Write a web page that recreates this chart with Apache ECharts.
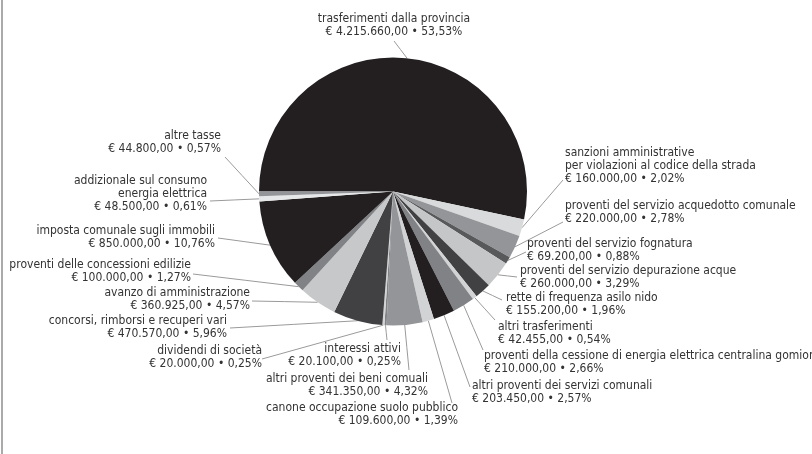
<!DOCTYPE html>
<html>
<head>
<meta charset="utf-8">
<script src="https://cdn.jsdelivr.net/npm/echarts@6/dist/echarts.min.js"></script>
<style>
  html, body { margin: 0; padding: 0; background: #fff; }
  #chart { width: 812px; height: 454px; }
</style>
</head>
<body>
<div id="chart"></div>
<script>
  // voci di entrata, in ordine orario a partire dalle ore 9
  var names = [
    'trasferimenti dalla provincia',
    'sanzioni amministrative\nper violazioni al codice della strada',
    'proventi del servizio acquedotto comunale',
    'proventi del servizio fognatura',
    'proventi del servizio depurazione acque',
    'rette di frequenza asilo nido',
    'altri trasferimenti',
    'proventi della cessione di energia elettrica centralina gomion',
    'altri proventi dei servizi comunali',
    'canone occupazione suolo pubblico',
    'altri proventi dei beni comuali',
    'interessi attivi',
    'dividendi di società',
    'concorsi, rimborsi e recuperi vari',
    'avanzo di amministrazione',
    'proventi delle concessioni edilizie',
    'imposta comunale sugli immobili',
    'addizionale sul consumo\nenergia elettrica',
    'altre tasse'
  ];
  var values = [4215660, 160000, 220000, 69200, 260000, 155200, 42455, 210000, 203450,
    109600, 341350, 20100, 20000, 470570, 360925, 100000, 850000, 48500, 44800];
  var pcts = ['53,53', '2,02', '2,78', '0,88', '3,29', '1,96', '0,54', '2,66', '2,57',
    '1,39', '4,32', '0,25', '0,25', '5,96', '4,57', '1,27', '10,76', '0,61', '0,57'];

  var colors = ['#231f20', '#d9dadb', '#939598', '#58595b', '#c4c6c8', '#414042', '#d1d3d4',
    '#808285', '#231f20', '#d1d3d4', '#939598', '#808285', '#d1d3d4', '#414042', '#c7c8ca',
    '#808285', '#231f20', '#e6e7e8', '#939598'];

  // posizione etichette: [x testo, y centro, allineamento, fine linea x, fine linea y]
  var labelPos = [
    [394, 25, 'center', 394, 41],
    [565, 166, 'left', 563, 180],
    [565, 212, 'left', 563, 222],
    [527, 250, 'left', 526, 252],
    [520, 277, 'left', 517, 277],
    [506, 304, 'left', 502, 300],
    [498, 333, 'left', 495, 320],
    [484, 362, 'left', 483, 350],
    [472, 392, 'left', 470, 387],
    [458, 414, 'right', 452, 403],
    [428, 385, 'right', 409, 370],
    [401, 355, 'right', 387, 340],
    [262, 357, 'right', 262, 359],
    [227, 327, 'right', 230, 328],
    [250, 299, 'right', 252, 301],
    [191, 271, 'right', 193, 274],
    [215, 237, 'right', 218, 238],
    [207, 194, 'right', 210, 201],
    [221, 142, 'right', 225, 157]
  ];

  function euro(v) {
    var s = String(v).replace(/\B(?=(\d{3})+(?!\d))/g, '.');
    return '€ ' + s + ',00';
  }

  var pieData = names.map(function (n, i) {
    return { name: n, value: values[i], itemStyle: { color: colors[i] } };
  });

  var myChart = echarts.init(document.getElementById('chart'));
  myChart.setOption({
    animation: false,
    graphic: [{
      type: 'line',
      shape: { x1: 2, y1: 0, x2: 2, y2: 454 },
      style: { stroke: '#aaaaaa', lineWidth: 2 }
    }],
    series: [{
      type: 'pie',
      center: [393, 191.5],
      radius: 134,
      startAngle: 180,
      clockwise: true,
      avoidLabelOverlap: false,
      data: pieData,
      label: {
        show: true,
        position: 'outside',
        color: '#333',
        fontFamily: '"Liberation Sans Narrow", "DejaVu Sans Condensed", sans-serif',
        fontSize: 12,
        lineHeight: 13,
        formatter: function (p) {
          return p.name + '\n' + euro(p.value) + ' • ' + pcts[p.dataIndex] + '%';
        }
      },
      labelLine: {
        show: true,
        length: 6,
        length2: 6,
        lineStyle: { color: '#9a9a9a', width: 1 }
      },
      labelLayout: function (p) {
        var pos = labelPos[p.dataIndex];
        var start = p.labelLinePoints ? p.labelLinePoints[0] : [pos[3], pos[4]];
        return {
          x: pos[0],
          y: pos[1],
          align: pos[2],
          verticalAlign: 'middle',
          labelLinePoints: [
            start,
            [(start[0] + pos[3]) / 2, (start[1] + pos[4]) / 2],
            [pos[3], pos[4]]
          ]
        };
      },
      emphasis: { disabled: true }
    }]
  });
</script>
</body>
</html>
